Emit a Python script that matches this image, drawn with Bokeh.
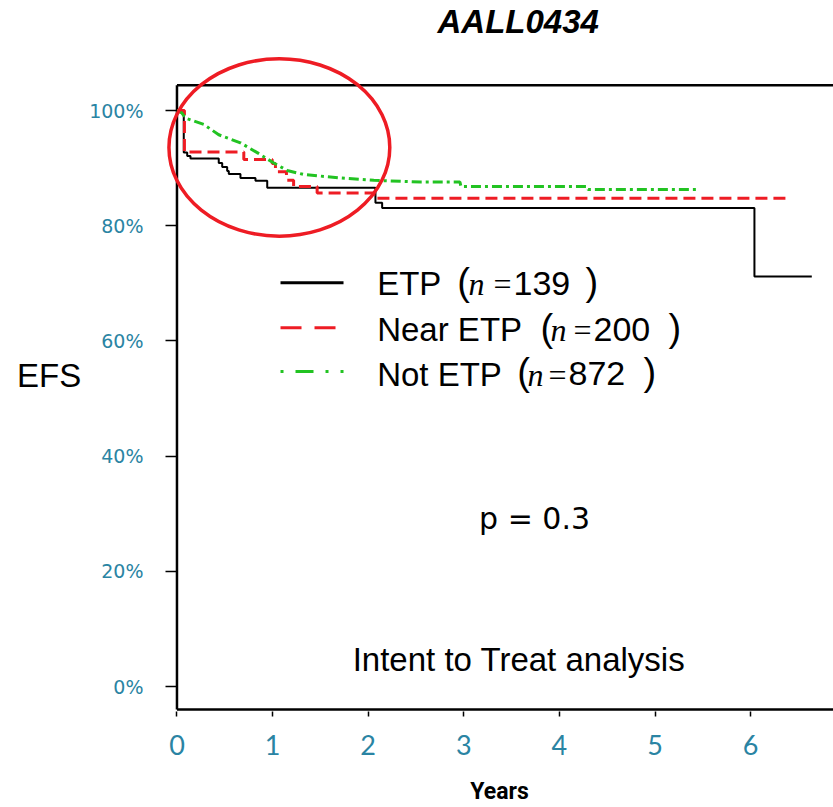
from bokeh.plotting import figure
from bokeh.models import Label, FixedTicker
from bokeh.embed import file_html
from bokeh.resources import INLINE

# Kaplan-Meier event-free survival, AALL0434 (years, EFS %)
etp_years = [0, 0.071, 0.107, 0.141, 0.437, 0.473, 0.525, 0.542, 0.664, 0.821, 0.944, 2.076, 2.146, 6.04, 6.64]
etp_efs = [100, 92.7, 92.1, 91.7, 90.9, 90.2, 89.5, 89.0, 88.3, 87.8, 86.6, 84.0, 83.1, 71.2, 71.2]

near_years = [0, 0.078, 0.699, 0.996, 1.03, 1.145, 1.22, 1.466, 2.06, 6.37]
near_efs = [100, 92.8, 91.5, 90.8, 89.4, 87.9, 86.8, 85.7, 84.8, 84.8]

not_years = [0, 0.05, 0.089, 0.28, 0.437, 0.664, 0.839, 1.013, 1.153, 1.326, 1.71, 2.059, 2.55, 2.96, 2.97, 4.29, 4.30, 5.44]
not_efs = [100, 99.6, 98.7, 97.6, 95.8, 94.4, 92.7, 90.9, 89.6, 88.9, 88.3, 87.9, 87.6, 87.6, 86.8, 86.8, 86.3, 86.3]

group_names = ["ETP", "Near ETP", "Not ETP"]
group_n = [139, 200, 872]

x_ticks = [0, 1, 2, 3, 4, 5, 6]
y_ticks = [0, 20, 40, 60, 80, 100]
y_tick_labels = ["0%", "20%", "40%", "60%", "80%", "100%"]

TEAL = "#2a84a3"
RED = "#ee1c24"
GREEN = "#22c322"

X0, X1 = -0.12, 6.867
Y0, Y1 = -4.33, 112.34
Y_AXIS = -3.98      # height of the drawn x-axis line
Y_TOP = 104.4       # height of the top frame line
PX_PER_UNIT = 5.777  # vertical pixels per EFS percent


def lift(size):
    """Raise a label so its alphabetic baseline lands where intended."""
    return 0.37 * size / PX_PER_UNIT


p = figure(width=833, height=807, x_range=(X0, X1), y_range=(Y0, Y1),
           min_border_left=165, min_border_right=0, min_border_top=38, min_border_bottom=95,
           output_backend="svg", toolbar_location=None)
p.title.text = "AALL0434"
p.title.align = "left"
p.title.offset = 272
p.title.standoff = 0
p.title.text_font = "Liberation Sans"
p.title.text_font_style = "bold italic"
p.title.text_font_size = "33px"
p.title.text_line_height = 1.0
p.title.text_color = "black"

p.outline_line_color = None
p.xgrid.visible = False
p.ygrid.visible = False
p.background_fill_color = "white"
p.border_fill_color = "white"

# y axis: inward ticks reaching the drawn axis line at x = 0
p.yaxis.ticker = FixedTicker(ticks=y_ticks)
p.yaxis.major_label_overrides = {t: s for t, s in zip(y_ticks, y_tick_labels)}
p.yaxis.axis_line_color = None
p.yaxis.major_tick_in = 11
p.yaxis.major_tick_out = 0
p.yaxis.major_tick_line_color = "black"
p.yaxis.major_tick_line_width = 1.5
p.yaxis.minor_tick_line_color = None
p.yaxis.major_label_standoff = 22
p.yaxis.major_label_text_font = "DejaVu Sans"
p.yaxis.major_label_text_font_size = "19px"
p.yaxis.major_label_text_color = TEAL
p.yaxis.axis_label = "EFS"
p.yaxis.axis_label_orientation = "horizontal"
p.yaxis.axis_label_standoff = 5
p.yaxis.axis_label_text_font = "Liberation Sans"
p.yaxis.axis_label_text_font_style = "normal"
p.yaxis.axis_label_text_font_size = "33px"
p.yaxis.axis_label_text_color = "black"

p.xaxis.ticker = FixedTicker(ticks=x_ticks)
p.xaxis.axis_line_color = None
p.xaxis.major_tick_in = 0
p.xaxis.major_tick_out = 5
p.xaxis.major_tick_line_color = "black"
p.xaxis.major_tick_line_width = 1.5
p.xaxis.minor_tick_line_color = None
p.xaxis.major_label_standoff = 18
p.xaxis.major_label_text_font = "Lato"
p.xaxis.major_label_text_font_size = "27px"
p.xaxis.major_label_text_color = TEAL
p.xaxis.axis_label = "Years"
p.xaxis.axis_label_standoff = 20
p.xaxis.axis_label_text_font = "Roboto"
p.xaxis.axis_label_text_font_style = "bold"
p.xaxis.axis_label_text_font_size = "23px"
p.xaxis.axis_label_text_color = "black"

# frame: left axis, bottom axis, top edge
p.segment(x0=[0, 0, 0], y0=[Y_AXIS, Y_AXIS, Y_TOP], x1=[0, X1, X1], y1=[Y_TOP, Y_AXIS, Y_TOP],
          line_color="black", line_width=2.5)

# survival curves
p.step(etp_years, etp_efs, mode="after", line_color="black", line_width=2)
p.step(near_years, near_efs, mode="after", line_color=RED, line_width=3, line_dash="12 6")
p.line(not_years, not_efs, line_color=GREEN, line_width=3, line_dash="10 4 3 4")

# legend keys
p.segment(x0=[1.083], y0=[70.1], x1=[1.742], y1=[70.1], line_color="black", line_width=3)
p.segment(x0=[1.083], y0=[62.3], x1=[1.742], y1=[62.3], line_color=RED, line_width=3, line_dash="21 13")
p.segment(x0=[1.083], y0=[54.7], x1=[1.742], y1=[54.7], line_color=GREEN, line_width=3, line_dash="3 12 18 12")

# legend texts: name, "(", italic n, "=", count, ")"
row_y = [67.86, 59.9, 52.1]
paren_l = [2.931, 3.802, 3.559]
n_x = [3.049, 3.907, 3.666]
eq_x = [3.311, 4.147, 3.886]
num_x = [3.520, 4.357, 4.095]
paren_r = [4.273, 5.141, 4.880]


def add_text(x, y, text, font, size, style="normal", align="left"):
    p.add_layout(Label(x=x, y=y + lift(size), text=text, text_font=font,
                       text_font_style=style, text_font_size=f"{size}px", text_color="black",
                       text_align=align, text_baseline="alphabetic"))


for i, name in enumerate(group_names):
    yb = row_y[i]
    add_text(2.094, yb, name, "Liberation Sans", 33)
    add_text(paren_l[i], yb, "(", "Liberation Sans", 38)
    add_text(n_x[i], yb, "n", "Liberation Serif", 32, style="italic")
    add_text(eq_x[i], yb, "=", "Liberation Serif", 32)
    add_text(num_x[i], yb, str(group_n[i]), "Liberation Sans", 34)
    add_text(paren_r[i], yb, ")", "Liberation Sans", 38)

# annotations
add_text(3.74, 27.2, "p = 0.3", "DejaVu Sans", 30, align="center")
add_text(3.577, 2.65, "Intent to Treat analysis", "Liberation Sans", 33, align="center")

# highlight of the early drop
p.ellipse(x=[1.071], y=[93.6], width=[2.31], height=[30.8], fill_color=None,
          line_color=RED, line_width=3.5)

open("out.html", "w").write(file_html(p, INLINE))
